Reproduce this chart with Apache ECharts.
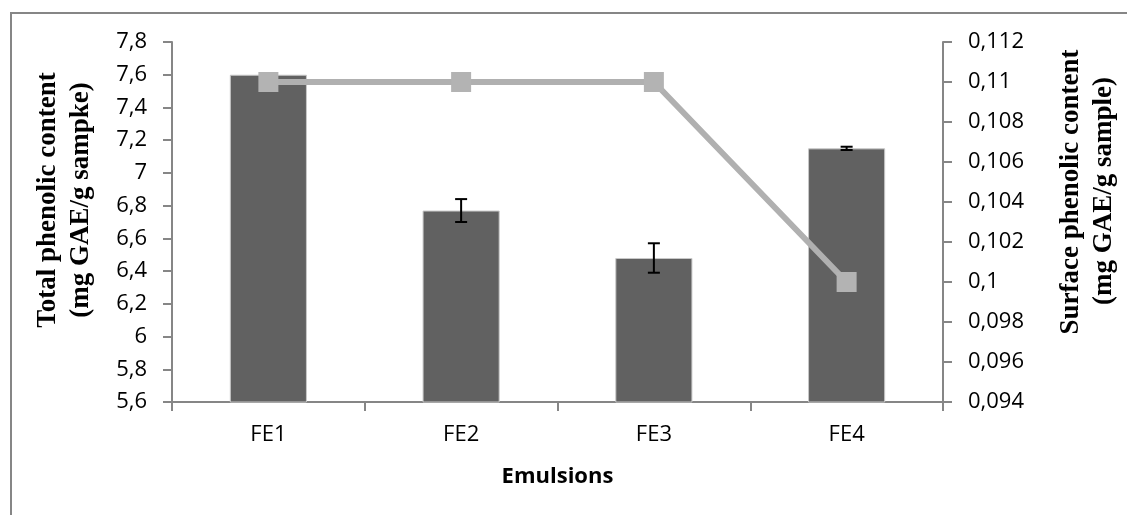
<!DOCTYPE html>
<html><head><meta charset="utf-8">
<script src="https://cdn.jsdelivr.net/npm/echarts@6/dist/echarts.min.js"></script>
<style>html,body{margin:0;padding:0;background:#fff}#c{width:1127px;height:515px}</style>
</head><body><div id="c"></div>
<script>
const categories = ['FE1','FE2','FE3','FE4'];
const totalPhenolic = [7.6, 6.77, 6.48, 7.15];
const totalPhenolicErr = [0.0, 0.07, 0.09, 0.01];
const surfacePhenolic = [0.11, 0.11, 0.11, 0.10];
const leftTitle = ['Total phenolic content', '(mg GAE/g sampke)'];
const rightTitle = ['Surface phenolic content', '(mg GAE/g sample)'];
const xTitle = 'Emulsions';

const fmt = v => String(+(+v).toFixed(4)).replace('.', ',');
const chart = echarts.init(document.getElementById('c'));
const axisGray = '#868686';
const sans = 'Open Sans';
const titleStyle = {fill:'#000', fontSize:27, fontWeight:'bold', fontFamily:'Liberation Serif', align:'center', verticalAlign:'middle'};
const vText = (t, x, y) => ({type:'text', x:x, y:y, rotation:Math.PI/2, style:Object.assign({text:t}, titleStyle)});
chart.setOption({
  animation: false,
  textStyle: {fontFamily: sans},
  graphic: [
    {type:'rect', shape:{x:11, y:13, width:1130, height:520}, style:{fill:'none', stroke:axisGray, lineWidth:2}, z:-1},
    vText(leftTitle[0], 48, 200),
    vText(leftTitle[1], 81, 200),
    vText(rightTitle[0], 1071, 192),
    vText(rightTitle[1], 1104, 191)
  ],
  grid: {left:172, right:184, top:42, bottom:113, outerBoundsMode:'none', containLabel:false},
  xAxis: {
    type:'category', data: categories,
    axisLine:{lineStyle:{color:axisGray, width:2}},
    axisTick:{show:true, length:9, lineStyle:{color:axisGray, width:2}},
    axisLabel:{color:'#000', fontSize:22, margin:22, fontFamily:sans},
    name: xTitle, nameLocation:'middle', nameGap:64,
    nameTextStyle:{color:'#000', fontSize:22, fontWeight:'bold', fontFamily:sans}
  },
  yAxis: [{
    type:'value', min:5.6, max:7.8, interval:0.2,
    axisLine:{show:true, lineStyle:{color:axisGray, width:2}},
    axisTick:{show:true, length:9, lineStyle:{color:axisGray, width:2}},
    splitLine:{show:false},
    axisLabel:{color:'#000', fontSize:22, margin:25, formatter: fmt, fontFamily:sans}
  },{
    type:'value', min:0.094, max:0.112, interval:0.002, position:'right',
    axisLine:{show:true, lineStyle:{color:axisGray, width:2}},
    axisTick:{show:true, length:9, lineStyle:{color:axisGray, width:2}},
    splitLine:{show:false},
    axisLabel:{color:'#000', fontSize:22, margin:25, formatter: fmt, fontFamily:sans}
  }],
  series: [{
    type:'bar', data: totalPhenolic, barWidth:'40%', yAxisIndex:0,
    itemStyle:{color:'#616161', borderColor:'#c8c8c8', borderWidth:1}, z:2
  },{
    type:'custom', yAxisIndex:0, z:3,
    data: categories.map((c,i)=>[i, totalPhenolic[i]-totalPhenolicErr[i], totalPhenolic[i]+totalPhenolicErr[i]]),
    renderItem: (params, api) => {
      const lo = api.coord([api.value(0), api.value(1)]);
      const hi = api.coord([api.value(0), api.value(2)]);
      const hw = 6;
      const st = {stroke:'#000', lineWidth:2};
      return {type:'group', children:[
        {type:'line', shape:{x1:hi[0], y1:hi[1], x2:lo[0], y2:lo[1]}, style:st},
        {type:'line', shape:{x1:hi[0]-hw, y1:hi[1], x2:hi[0]+hw, y2:hi[1]}, style:st},
        {type:'line', shape:{x1:lo[0]-hw, y1:lo[1], x2:lo[0]+hw, y2:lo[1]}, style:st}
      ]};
    }
  },{
    type:'line', data: surfacePhenolic, yAxisIndex:1, z:4,
    symbol:'rect', symbolSize:20,
    lineStyle:{color:'#b0b0b0', width:6},
    itemStyle:{color:'#b3b3b3'}
  }]
});
</script></body></html>
